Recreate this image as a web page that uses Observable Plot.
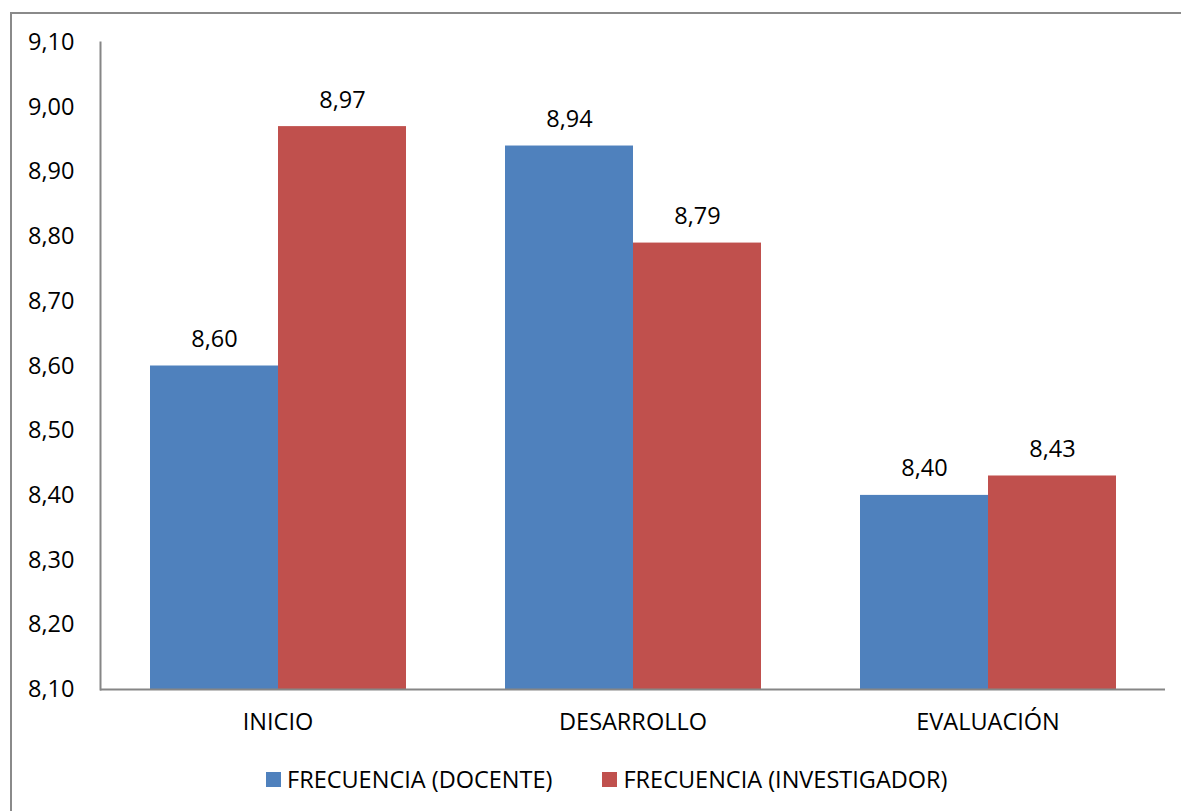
<!DOCTYPE html>
<html>
<head>
<meta charset="utf-8">
<script src="https://cdn.jsdelivr.net/npm/d3@7"></script>
<script src="https://cdn.jsdelivr.net/npm/@observablehq/plot@0.6"></script>
<style>
  body { margin: 0; background: #fff; overflow: hidden; font-family: "Open Sans", sans-serif; }
  #page { position: relative; width: 1181px; height: 811px; }
  #border { position: absolute; left: 10px; top: 12px; width: 1300px; height: 1000px; border: 2px solid #8a8a8a; box-sizing: border-box; }
  #chart { position: absolute; left: 0; top: 0; }
  #legend { position: absolute; left: 266px; top: 763px; display: flex; align-items: center; font-size: 23.5px; color: #000; }
  .item { display: flex; align-items: center; margin-right: 50px; }
  .swatch { width: 15px; height: 15px; margin-right: 6px; }
</style>
</head>
<body>
<div id="page">
  <div id="border"></div>
  <div id="chart"></div>
  <div id="legend"></div>
</div>
<script>
// Categories, series and values
const categories = ["INICIO", "DESARROLLO", "EVALUACIÓN"];
const series = ["FRECUENCIA (DOCENTE)", "FRECUENCIA (INVESTIGADOR)"];
const docente = [8.60, 8.94, 8.40];
const investigador = [8.97, 8.79, 8.43];
const yTicks = [8.1, 8.2, 8.3, 8.4, 8.5, 8.6, 8.7, 8.8, 8.9, 9.0, 9.1];
const colors = ["#4F81BD", "#C0504D"];

const fmt = d => d.toFixed(2).replace(".", ",");

const rows = [];
categories.forEach((c, i) => {
  rows.push({cat: c, serie: series[0], value: docente[i]});
  rows.push({cat: c, serie: series[1], value: investigador[i]});
});

const axisGray = "#868686";
const fs = 23.5;

const chart = Plot.plot({
  width: 1181,
  height: 750,
  marginTop: 42,
  marginBottom: 61,
  marginLeft: 100,
  marginRight: 16,
  style: {fontFamily: "Open Sans, sans-serif", fontSize: fs + "px", color: "#000", background: "transparent", overflow: "visible"},
  fx: {domain: categories, padding: 0, label: null},
  x: {domain: series, paddingInner: 0, paddingOuter: 0.376, axis: null},
  y: {domain: [8.1, 9.1], label: null},
  color: {domain: series, range: colors},
  marks: [
    Plot.barY(rows, {fx: "cat", x: "serie", y1: 8.1, y2: "value", fill: "serie"}),
    Plot.text(rows, {fx: "cat", x: "serie", y: "value", text: d => fmt(d.value), lineAnchor: "bottom", dy: -19, fontSize: fs, fill: "#000"}),
    Plot.ruleY([8.1], {stroke: axisGray, strokeWidth: 2}),
    Plot.frame({anchor: "left", facetAnchor: "left", stroke: axisGray, strokeWidth: 2}),
    Plot.axisY({ticks: yTicks, tickSize: 0, tickPadding: 26, tickFormat: fmt, fontSize: fs, label: null}),
    Plot.axisFx({anchor: "bottom", tickSize: 0, tickPadding: 24, label: null, fontSize: fs})
  ]
});
document.getElementById("chart").appendChild(chart);

// Legend below the plot
const legend = document.getElementById("legend");
series.forEach((s, i) => {
  const item = document.createElement("div");
  item.className = "item";
  const sw = document.createElement("div");
  sw.className = "swatch";
  sw.style.background = colors[i];
  const label = document.createElement("span");
  label.textContent = s;
  item.appendChild(sw);
  item.appendChild(label);
  legend.appendChild(item);
});
</script>
</body>
</html>
